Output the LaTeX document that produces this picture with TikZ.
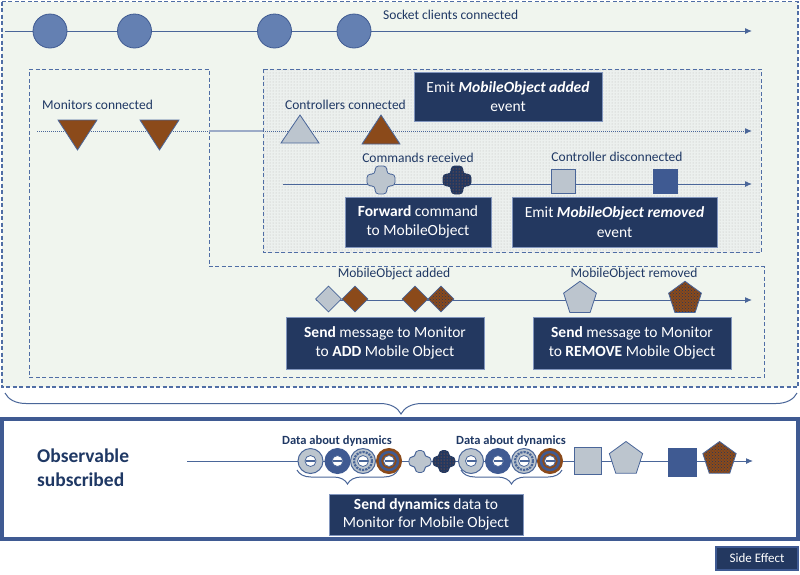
\documentclass[tikz,border=0pt]{standalone}
\usepackage{fontspec}
\setmainfont{Carlito}
\usetikzlibrary{shapes.geometric,arrows.meta,decorations.pathreplacing,patterns}
\definecolor{bgc}{RGB}{240,245,238}
\definecolor{ctlbg}{RGB}{236,240,238}
\definecolor{lnc}{RGB}{74,102,153}
\definecolor{navy}{RGB}{35,56,96}
\definecolor{circf}{RGB}{100,128,178}
\definecolor{brn}{RGB}{139,74,26}
\definecolor{gry}{RGB}{188,197,206}
\definecolor{txtc}{RGB}{31,56,100}
\definecolor{sqb}{RGB}{63,90,146}
\definecolor{dashc}{RGB}{80,110,165}
\definecolor{boxedge}{RGB}{130,150,190}
\definecolor{orng}{RGB}{200,100,40}
\newcommand\myplus[4]{%
  \begin{scope}[shift={#2}]
    \coordinate (#1) at (0,0);
    \draw[#4, rounded corners=3.5pt]
      (-0.42*#3,-#3) -- (0.42*#3,-#3) -- (0.42*#3,-0.42*#3) -- (#3,-0.42*#3)
      -- (#3,0.42*#3) -- (0.42*#3,0.42*#3) -- (0.42*#3,#3) -- (-0.42*#3,#3)
      -- (-0.42*#3,0.42*#3) -- (-#3,0.42*#3) -- (-#3,-0.42*#3) -- (-0.42*#3,-0.42*#3) -- cycle;
  \end{scope}}
\newcommand\mydonut[4]{%
  \coordinate (#1) at #2;
  \path[#3] (#1) circle[radius=12.5];
  \path[#4] (#1) circle[radius=9];
  \draw[lnc, fill=white, line width=0.8pt] (#1) circle[radius=5.5];
  \draw[lnc, line width=2.2pt] ([xshift=-4.5pt]#1) -- ([xshift=4.5pt]#1);}
\begin{document}
\begin{tikzpicture}[x=1pt,y=-1pt,
  flow/.style={draw=lnc, line width=1pt, -{Latex[length=7pt,width=6pt]}},
  lbl/.style={text=txtc, font=\fontsize{13.5}{16}\selectfont, inner sep=0pt},
  dlbl/.style={text=txtc, font=\bfseries\fontsize{12.5}{15}\selectfont, inner sep=0pt},
  evbox/.style={fill=navy, draw=boxedge, line width=0.8pt, text=white, align=center,
    font=\fontsize{15.5}{19.5}\selectfont, inner sep=0pt},
  sock/.style={circle, fill=circf, draw=sqb, line width=0.8pt, minimum size=34pt, inner sep=0pt},
  dia/.style={diamond, aspect=1, minimum width=26pt, minimum height=26pt, inner sep=0pt, draw=lnc, line width=0.8pt},
  pent/.style={regular polygon, regular polygon sides=5, minimum size=34.5pt, inner sep=0pt, draw=lnc, line width=0.8pt},
  sq/.style={rectangle, minimum size=24pt, inner sep=0pt, draw=lnc, line width=0.8pt},
  shp/.style={draw=lnc, line width=0.8pt},
  dbox/.style={draw=dashc, dash pattern=on 4pt off 2.5pt, line width=1pt},
  brc/.style={draw=lnc, line width=1pt, decorate, decoration={brace, mirror, amplitude=#1}},
]
\useasboundingbox (0,0) rectangle (800,574);

% ---- outer region
\draw[dbox, line width=1.3pt, fill=bgc] (2,1.5) rectangle (798,387);
\draw[dbox] (29,69) -- (209,69) -- (209,266.5) -- (764,266.5) -- (764,377.5) -- (29,377.5) -- cycle;
\draw[dbox, preaction={fill=ctlbg}, pattern=dots, pattern color=gray!55] (263,69) rectangle (761,252.5);

% ---- socket clients
\coordinate (s0) at (5,31);
\coordinate (s1) at (752,31);
\draw[flow] (s0) -- (s1);
\node[sock] (c1) at (50,31) {};
\node[sock] (c2) at (134.5,31) {};
\node[sock] (c3) at (274.5,31) {};
\node[sock] (c4) at (354,31) {};
\node[lbl, anchor=west] (lsock) at (383,15) {Socket clients connected};

% ---- monitors / controllers line
\coordinate (m0) at (37,131);
\coordinate (m1) at (209,131);
\coordinate (m2) at (263,131);
\coordinate (m3) at (752,131);
\draw[lnc, line width=1pt, densely dotted] (m0) -- (m1);
\draw[lnc!55, line width=1.6pt] (m1) -- (m2);
\draw[flow, densely dotted] (m2) -- (m3);
\node[lbl, anchor=west] (lmon) at (42,105) {Monitors connected};
\draw[shp, fill=brn] (58,120) -- (97,120) -- (77.5,150) -- cycle;
\coordinate (t1) at (77.5,130);
\draw[shp, fill=brn] (140,120) -- (179,120) -- (159.5,150) -- cycle;
\coordinate (t2) at (159.5,130);
\node[lbl] (lctl) at (345.5,105) {Controllers connected};
\draw[shp, fill=gry] (281,143) -- (300,115) -- (319,143) -- cycle;
\coordinate (t3) at (300,134);
\draw[shp, fill=brn] (362,144) -- (381,115) -- (400,144) -- cycle;
\coordinate (t4) at (381,134);
\node[evbox, minimum width=188pt, minimum height=49pt] (eadd) at (508,96.5)
  {Emit \textbf{\textit{MobileObject added}}\\event};

% ---- commands line
\coordinate (k0) at (283,184);
\coordinate (k1) at (752,184);
\draw[flow] (k0) -- (k1);
\node[lbl] (lcmd) at (418,158) {Commands received};
\node[lbl] (ldis) at (617,157) {Controller disconnected};
\myplus{p1}{(381,180)}{14}{shp, fill=gry}
\myplus{p2}{(457,180)}{14}{draw=navy, line width=0.8pt, preaction={fill=navy}, pattern=dots, pattern color=orng}
\node[sq, fill=gry] (q1) at (563,181) {};
\node[sq, fill=sqb, draw=sqb] (q2) at (665,181) {};
\node[evbox, minimum width=146pt, minimum height=50pt] (fwd) at (418,222)
  {\textbf{Forward} command\\to MobileObject};
\node[evbox, minimum width=205pt, minimum height=50pt] (erem) at (614.5,222)
  {Emit \textbf{\textit{MobileObject removed}}\\event};

% ---- MobileObject line
\coordinate (o0) at (316,300);
\coordinate (o1) at (752,300);
\draw[flow] (o0) -- (o1);
\node[lbl] (ladd) at (394,274) {MobileObject added};
\node[lbl] (lrem) at (634,274) {MobileObject removed};
\node[dia, fill=gry] (d1) at (328.5,299) {};
\node[dia, fill=brn] (d2) at (355,299) {};
\node[dia, fill=brn] (d3) at (415,299) {};
\node[dia, preaction={fill=brn}, pattern=crosshatch dots, pattern color=navy] (d4) at (441,299) {};
\node[pent, fill=gry] (g1) at (580,298.5) {};
\node[pent, preaction={fill=brn}, pattern=crosshatch dots, pattern color=navy] (g2) at (685,298.5) {};
\node[evbox, minimum width=198pt, minimum height=52pt] (sadd) at (385,343)
  {\textbf{Send} message to Monitor\\to \textbf{ADD} Mobile Object};
\node[evbox, minimum width=198pt, minimum height=52pt] (srem) at (632,343)
  {\textbf{Send} message to Monitor\\to \textbf{REMOVE} Mobile Object};

% ---- big brace
\coordinate (b0) at (5,393);
\coordinate (b1) at (797,393);
\draw[brc=21pt] (b0) -- (b1);

% ---- observable subscribed
\draw[sqb, line width=3.6pt, fill=white] (1.8,419) rectangle (797.8,539);
\node[text=txtc, font=\bfseries\fontsize{19.5}{24}\selectfont, align=left, anchor=west, inner sep=0pt]
  (lobs) at (37,468) {Observable\\subscribed};
\coordinate (w0) at (187,461);
\coordinate (w1) at (753,461);
\draw[flow] (w0) -- (w1);
\node[dlbl] (ld1) at (337,441) {Data about dynamics};
\node[dlbl] (ld2) at (511,441) {Data about dynamics};
\mydonut{n1}{(310.5,461)}{fill=gry, draw=lnc, line width=1pt}{draw=none}
\mydonut{n2}{(337.5,461)}{fill=sqb, draw=sqb, line width=1pt}{draw=none}
\mydonut{n3}{(363,461)}{fill=gry, draw=lnc, line width=1pt}{draw=lnc, line width=2.2pt, densely dotted}
\mydonut{n4}{(389,461)}{fill=brn, draw=brn, line width=1pt}{draw=sqb, line width=2.5pt}
\myplus{p3}{(420,461.5)}{11}{shp, fill=gry}
\myplus{p4}{(444,461.5)}{11}{draw=navy, line width=0.8pt, preaction={fill=navy}, pattern=dots, pattern color=orng}
\mydonut{n5}{(471,461)}{fill=gry, draw=lnc, line width=1pt}{draw=none}
\mydonut{n6}{(498,461)}{fill=sqb, draw=sqb, line width=1pt}{draw=none}
\mydonut{n7}{(524,461)}{fill=gry, draw=lnc, line width=1pt}{draw=lnc, line width=2.2pt, densely dotted}
\mydonut{n8}{(550,461)}{fill=brn, draw=brn, line width=1pt}{draw=sqb, line width=2.5pt}
\node[sq, fill=gry, minimum size=27pt] (q3) at (588,460.7) {};
\node[pent, fill=gry, minimum size=35pt] (g3) at (626,459) {};
\node[sq, fill=sqb, draw=sqb, minimum size=28pt] (q4) at (682.5,462) {};
\node[pent, preaction={fill=brn}, pattern=crosshatch dots, pattern color=navy, minimum size=35pt] (g4) at (719.5,459) {};
\coordinate (r0) at (297,470);
\coordinate (r1) at (398,470);
\coordinate (r2) at (461,470);
\coordinate (r3) at (562,470);
\draw[brc=14pt] (r0) -- (r1);
\draw[brc=14pt] (r2) -- (r3);
\node[evbox, minimum width=194pt, minimum height=41pt, font=\fontsize{15.5}{18}\selectfont] (sdyn) at (426,514.5)
  {\textbf{Send dynamics} data to\\Monitor for Mobile Object};

% ---- legend
\node[evbox, draw=sqb, line width=1.5pt, minimum width=82pt, minimum height=23pt, font=\fontsize{13}{15}\selectfont] (side) at (757,558.5) {Side Effect};
\end{tikzpicture}
\end{document}
